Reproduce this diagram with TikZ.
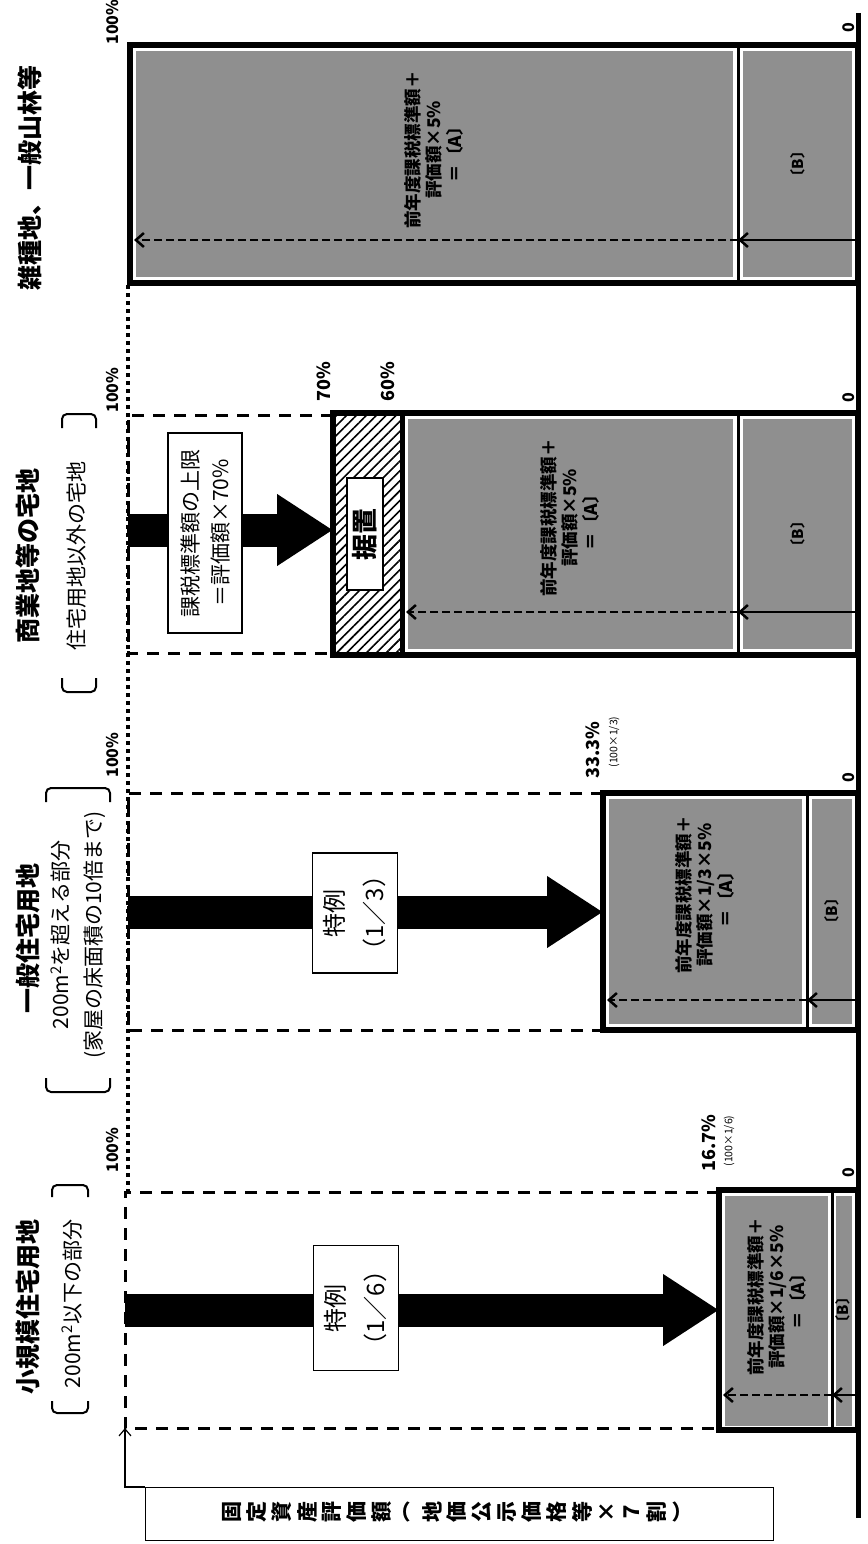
\documentclass[tikz,border=0pt]{standalone}
\usepackage{fontspec}
\setmainfont{Noto Sans CJK JP}
\usetikzlibrary{arrows.meta,patterns.meta}

\begin{document}
\begin{tikzpicture}[
    x=1pt, y=-1pt,
    hdr/.style={rotate=90, font=\fontsize{25}{30}\selectfont\bfseries},
    subhdr/.style={rotate=90, align=center, font=\fontsize{21}{33}\selectfont},
    pct/.style={rotate=90, font=\fontsize{16}{18}\selectfont\bfseries},
    pctbig/.style={rotate=90, font=\fontsize{18}{20}\selectfont\bfseries},
    pctnote/.style={rotate=90, font=\fontsize{10.5}{12}\selectfont},
    atext/.style={rotate=90, align=center, font=\fontsize{17.5}{21}\selectfont\bfseries},
    btext/.style={rotate=90, font=\fontsize{15}{17}\selectfont\bfseries},
    stip/.style={fill=black!44},
    barframe/.style={line width=6pt},
    divider/.style={line width=3pt},
    hundred/.style={line width=3pt, dash pattern=on 12pt off 9pt},
    dotline/.style={line width=4pt, dash pattern=on 4pt off 4pt},
    upA/.style={line width=2.5pt, dash pattern=on 8pt off 4pt, -{Straight Barb[length=8pt,width=14pt]}},
    upB/.style={line width=2.5pt, -{Straight Barb[length=8pt,width=14pt]}},
    bigarrow/.style={line width=33pt, -{Triangle[length=56pt,width=68pt]}},
    tbox/.style={draw, line width=1.2pt, fill=white, rotate=90, align=center, inner sep=0pt},
    brk/.style={line width=2pt, rounded corners=5pt}
]
\fill[white] (0,0) rectangle (867,1544);
\useasboundingbox (0,0) rectangle (867,1544);

% baseline (0) and 100% line
\draw[line width=5pt] (858,13) -- (858,1518);
\draw[dotline] (128,285) -- (128,1192);

% column 1
\node[hdr] (h1) at (30,178) {雑種地、一般山林等};
\node[pct] (p1) at (113,22) {100\%};
\node[pct] (z1) at (849,28) {0};
\fill[stip] (136,51) rectangle (733,277);
\fill[stip] (743,51) rectangle (852,277);
\draw[divider] (738,45) -- (738,283);
\draw[barframe] (130,45) rectangle (858,283);
\node[atext] (a1) at (434,150) {前年度課税標準額＋\\評価額×5\%\\＝〔A〕};
\node[btext] (b1) at (798,164) {〔B〕};
\coordinate (base1) at (856,240);
\coordinate (div1) at (738,240);
\coordinate (top1) at (134,240);
\draw[upB] (base1) -- (div1);
\draw[upA] (div1) -- (top1);

% column 2
\node[hdr] (h2) at (28,556) {商業地等の宅地};
\node[subhdr] (s2) at (77,556) {住宅用地以外の宅地};
\draw[brk] (62,428) -- (62,414) -- (96,414) -- (96,428);
\draw[brk] (62,678) -- (62,692) -- (96,692) -- (96,678);
\node[pct] (p2) at (113,390) {100\%};
\node[pctbig] (p2a) at (324,382) {70\%};
\node[pctbig] (p2b) at (388,382) {60\%};
\node[pct] (z2) at (849,398) {0};
\draw[hundred] (333,415) -- (128,415) -- (128,653) -- (333,653);
\fill[pattern={Lines[angle=45,distance=7pt,line width=1.6pt]}] (333,413) rectangle (402,655);
\fill[stip] (408,419) rectangle (733,649);
\fill[stip] (743,419) rectangle (852,649);
\draw[line width=5pt] (402,413) -- (402,655);
\draw[divider] (738,413) -- (738,655);
\draw[barframe] (333,413) rectangle (858,655);
\node[tbox, minimum width=112pt, minimum height=36pt, font=\fontsize{26}{30}\selectfont\bfseries] (keep) at (365,534) {据置};
\node[atext] (a2) at (570,518) {前年度課税標準額＋\\評価額×5\%\\＝〔A〕};
\node[btext] (b2) at (798,534) {〔B〕};
\coordinate (base2) at (856,612);
\coordinate (div2) at (738,612);
\coordinate (top2) at (406,612);
\draw[upB] (base2) -- (div2);
\draw[upA] (div2) -- (top2);
\coordinate (from2) at (128,530);
\coordinate (to2) at (333,530);
\draw[bigarrow] (from2) -- (to2);
\node[tbox, minimum width=200pt, minimum height=74pt, font=\fontsize{21}{30}\selectfont] (cap2) at (205,533) {課税標準額の上限\\＝評価額×70\%};

% column 3
\node[hdr] (h3) at (28,938) {一般住宅用地};
\node[subhdr] (s3) at (78,935) {200m\textsuperscript{2}を超える部分\\(家屋の床面積の10倍まで)};
\draw[brk] (46,802) -- (46,788) -- (110,788) -- (110,802);
\draw[brk] (46,1078) -- (46,1092) -- (110,1092) -- (110,1078);
\node[pct] (p3) at (113,755) {100\%};
\node[pctbig] (p3a) at (593,750) {33.3\%};
\node[pctnote] (p3b) at (614,742) {(100×1/3)};
\node[pct] (z3) at (849,778) {0};
\draw[hundred] (603,793) -- (128,793) -- (128,1030) -- (603,1030);
\fill[stip] (609,799) rectangle (802,1024);
\fill[stip] (812,799) rectangle (852,1024);
\draw[divider] (807,793) -- (807,1030);
\draw[barframe] (603,793) rectangle (858,1030);
\node[atext] (a3) at (705,895) {前年度課税標準額＋\\評価額×1/3×5\%\\＝〔A〕};
\node[btext] (b3) at (832,911) {〔B〕};
\coordinate (base3) at (856,1000);
\coordinate (div3) at (807,1000);
\coordinate (top3) at (607,1000);
\draw[upB] (base3) -- (div3);
\draw[upA] (div3) -- (top3);
\coordinate (from3) at (128,912);
\coordinate (to3) at (603,912);
\draw[bigarrow] (from3) -- (to3);
\node[tbox, minimum width=120pt, minimum height=85pt, font=\fontsize{24}{40}\selectfont] (cap3) at (355,913) {特例\\（1／3）};

% column 4
\node[hdr] (h4) at (28,1307) {小規模住宅用地};
\node[subhdr] (s4) at (72,1304) {200m\textsuperscript{2}以下の部分};
\draw[brk] (52,1197) -- (52,1185) -- (88,1185) -- (88,1197);
\draw[brk] (52,1401) -- (52,1413) -- (88,1413) -- (88,1401);
\node[pct] (p4) at (113,1150) {100\%};
\node[pctbig] (p4a) at (709,1143) {16.7\%};
\node[pctnote] (p4b) at (729,1141) {(100×1/6)};
\node[pct] (z4) at (849,1173) {0};
\draw[hundred] (719,1192) -- (125,1192) -- (125,1428) -- (719,1428);
\fill[stip] (725,1196) rectangle (828,1426);
\fill[stip] (836,1196) rectangle (852,1426);
\draw[divider] (832,1190) -- (832,1430);
\draw[barframe] (719,1190) rectangle (858,1430);
\node[atext] (a4) at (777,1297) {前年度課税標準額＋\\評価額×1/6×5\%\\＝〔A〕};
\node[btext] (b4) at (843,1310) {〔B〕};
\coordinate (base4) at (856,1395);
\coordinate (div4) at (832,1395);
\coordinate (top4) at (723,1395);
\draw[upB] (base4) -- (div4);
\draw[upA] (div4) -- (top4);
\coordinate (from4) at (125,1310);
\coordinate (to4) at (719,1310);
\draw[bigarrow] (from4) -- (to4);
\node[tbox, minimum width=125pt, minimum height=85pt, font=\fontsize{24}{40}\selectfont] (cap4) at (356,1308) {特例\\（1／6）};

% appraisal value box
\node[draw, line width=1.2pt, minimum width=628pt, minimum height=53pt, anchor=north west, inner sep=0pt] (fbox) at (145,1487) {};
\foreach \ch [count=\i] in {固,定,資,産,評,価,額,︵,地,価,公,示,価,格,等,×,７,割,︶}
    \node[rotate=90, font=\fontsize{21}{21}\selectfont\bfseries] (fc\i) at (207+25*\i,1512) {\ch};
\coordinate (c4) at (125,1428);
\draw[line width=1.2pt, -{Straight Barb[length=7pt,width=12pt]}] (fbox.north west) -| (c4);
\end{tikzpicture}
\end{document}
